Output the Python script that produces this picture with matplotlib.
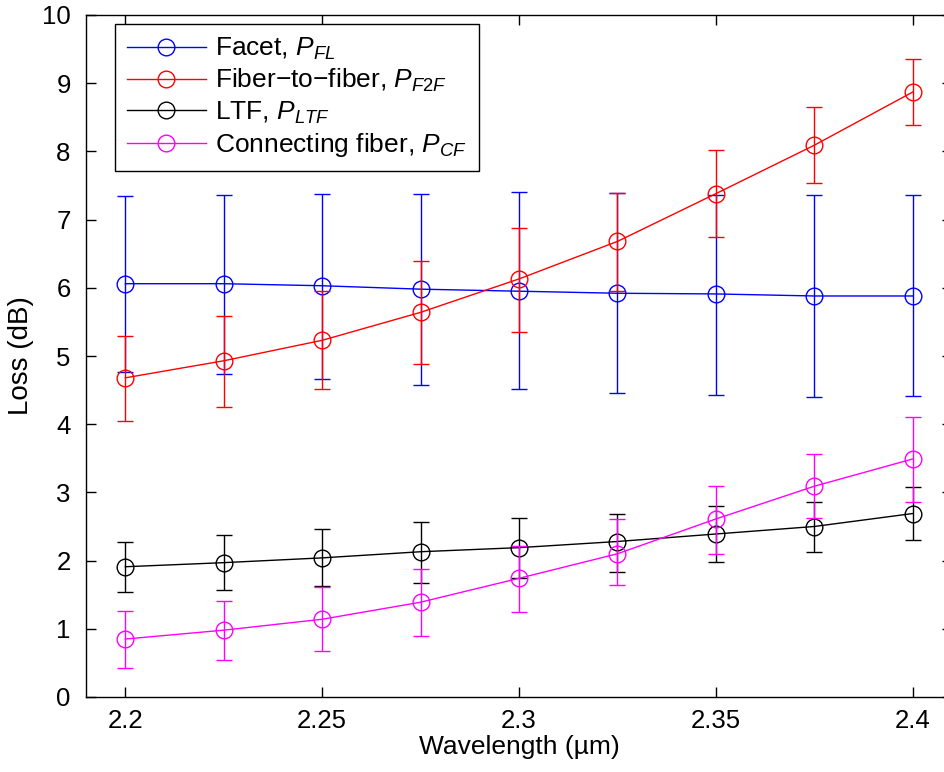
import matplotlib
matplotlib.use("Agg")
import matplotlib.pyplot as plt

plt.rcParams['font.family'] = ['Liberation Sans', 'DejaVu Sans']
plt.rcParams['mathtext.fontset'] = 'custom'
plt.rcParams['mathtext.rm'] = 'Liberation Sans'
plt.rcParams['mathtext.it'] = 'Liberation Sans:italic'

wavelength = [2.2, 2.225, 2.25, 2.275, 2.3, 2.325, 2.35, 2.375, 2.4]

facet = [6.06, 6.06, 6.03, 5.98, 5.95, 5.92, 5.91, 5.88, 5.88]
facet_up = [7.35, 7.36, 7.38, 7.38, 7.40, 7.39, 7.36, 7.36, 7.36]
facet_lo = [4.77, 4.73, 4.66, 4.58, 4.52, 4.46, 4.43, 4.40, 4.41]

f2f = [4.68, 4.93, 5.23, 5.64, 6.13, 6.68, 7.38, 8.09, 8.87]
f2f_up = [5.29, 5.59, 5.96, 6.39, 6.88, 7.39, 8.02, 8.65, 9.35]
f2f_lo = [4.05, 4.25, 4.52, 4.88, 5.35, 5.95, 6.74, 7.54, 8.38]

ltf = [1.91, 1.97, 2.04, 2.13, 2.19, 2.28, 2.39, 2.50, 2.69]
ltf_up = [2.28, 2.37, 2.47, 2.57, 2.63, 2.69, 2.80, 2.86, 3.08]
ltf_lo = [1.54, 1.57, 1.63, 1.67, 1.74, 1.84, 1.98, 2.13, 2.30]

cf = [0.85, 0.98, 1.14, 1.39, 1.74, 2.10, 2.61, 3.09, 3.49]
cf_up = [1.26, 1.41, 1.61, 1.88, 2.21, 2.61, 3.09, 3.57, 4.10]
cf_lo = [0.42, 0.54, 0.67, 0.89, 1.25, 1.64, 2.10, 2.62, 2.86]

labels = ['Facet, $P_{FL}$', 'Fiber\u2212to\u2212fiber, $P_{F2F}$',
          'LTF, $P_{LTF}$', 'Connecting fiber, $P_{CF}$']
colors = ['#0000ff', '#ff0000', '#000000', '#ff00ff']
xticks = [2.2, 2.25, 2.3, 2.35, 2.4]
yticks = list(range(0, 11))

fig = plt.figure(figsize=(9.45, 7.72), dpi=100)
ax = fig.add_axes([86/945, 75/772, 866/945, 682/772])

series = [(facet, facet_up, facet_lo), (f2f, f2f_up, f2f_lo),
          (ltf, ltf_up, ltf_lo), (cf, cf_up, cf_lo)]
for (y, up, lo), c, lab in zip(series, colors, labels):
    err = [[v - l for v, l in zip(y, lo)], [u - v for v, u in zip(y, up)]]
    ax.errorbar(wavelength, y, yerr=err, fmt='none', ecolor=c, elinewidth=1.0,
                capsize=5.5, capthick=1.0)
    ax.plot(wavelength, y, color=c, lw=1.0, marker='o', markersize=12,
            markerfacecolor='none', markeredgecolor=c, markeredgewidth=1.0, label=lab)

ax.set_xlim(2.19, 2.41)
ax.set_ylim(0, 10)
ax.set_xticks(xticks)
ax.set_xticklabels([str(t) for t in xticks])
ax.set_yticks(yticks)
ax.tick_params(direction='in', length=7, width=1, top=True, right=True,
               labelsize=18.5)
ax.tick_params(axis='y', pad=11)
ax.tick_params(axis='x', pad=9)
for s in ax.spines.values():
    s.set_linewidth(1.0)
ax.set_xlabel('Wavelength (\u00b5m)', fontsize=19, labelpad=1)
ax.set_ylabel('Loss (dB)', fontsize=20, labelpad=6)

leg = ax.legend(loc='upper left', bbox_to_anchor=(0.0335, 0.987), borderaxespad=0,
                fontsize=19, handlelength=3.0, handletextpad=0.35, labelspacing=0.2,
                fancybox=False, framealpha=1, edgecolor='black', borderpad=0.45)
leg.get_frame().set_linewidth(1.0)

fig.savefig('out.png', dpi=100)
